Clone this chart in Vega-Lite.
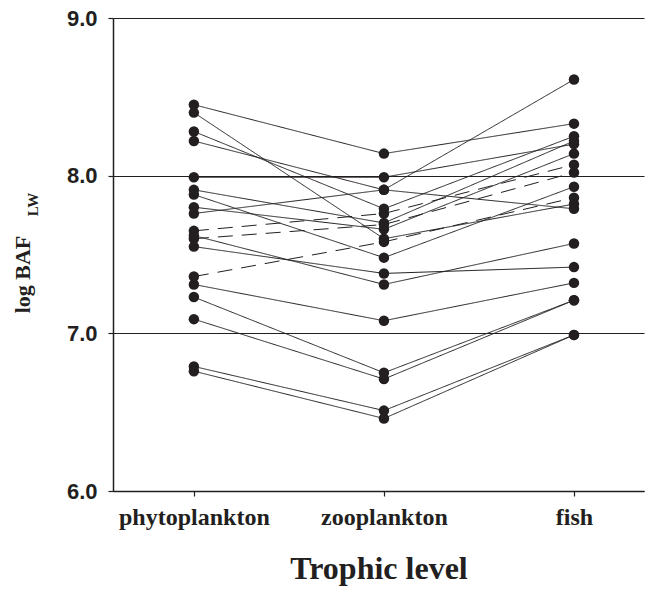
{
  "$schema": "https://vega.github.io/schema/vega-lite/v6.json",
  "autosize": {"type": "none"},
  "padding": {"left": 113, "top": 18, "right": 3, "bottom": 99},
  "width": 531,
  "height": 473,
  "background": "white",
  "config": {"view": {"stroke": null}},
  "data": {"values": [
    {"series": "S1", "level": "phytoplankton", "value": 8.45, "style": "solid"},
    {"series": "S1", "level": "zooplankton", "value": 8.14, "style": "solid"},
    {"series": "S1", "level": "fish", "value": 8.33, "style": "solid"},
    {"series": "S2", "level": "phytoplankton", "value": 8.40, "style": "solid"},
    {"series": "S2", "level": "zooplankton", "value": 7.60, "style": "solid"},
    {"series": "S2", "level": "fish", "value": 7.82, "style": "solid"},
    {"series": "S3", "level": "phytoplankton", "value": 8.28, "style": "solid"},
    {"series": "S3", "level": "zooplankton", "value": 7.79, "style": "solid"},
    {"series": "S3", "level": "fish", "value": 8.25, "style": "solid"},
    {"series": "S4", "level": "phytoplankton", "value": 8.22, "style": "solid"},
    {"series": "S4", "level": "zooplankton", "value": 7.91, "style": "solid"},
    {"series": "S4", "level": "fish", "value": 8.61, "style": "solid"},
    {"series": "S5", "level": "phytoplankton", "value": 7.99, "style": "solid"},
    {"series": "S5", "level": "zooplankton", "value": 7.99, "style": "solid"},
    {"series": "S5", "level": "fish", "value": 8.20, "style": "solid"},
    {"series": "S6", "level": "phytoplankton", "value": 7.91, "style": "solid"},
    {"series": "S6", "level": "zooplankton", "value": 7.70, "style": "solid"},
    {"series": "S6", "level": "fish", "value": 8.22, "style": "solid"},
    {"series": "S7", "level": "phytoplankton", "value": 7.88, "style": "solid"},
    {"series": "S7", "level": "zooplankton", "value": 7.48, "style": "solid"},
    {"series": "S7", "level": "fish", "value": 7.93, "style": "solid"},
    {"series": "S8", "level": "phytoplankton", "value": 7.80, "style": "solid"},
    {"series": "S8", "level": "zooplankton", "value": 7.66, "style": "solid"},
    {"series": "S8", "level": "fish", "value": 8.14, "style": "solid"},
    {"series": "S9", "level": "phytoplankton", "value": 7.76, "style": "solid"},
    {"series": "S9", "level": "zooplankton", "value": 7.91, "style": "solid"},
    {"series": "S9", "level": "fish", "value": 7.79, "style": "solid"},
    {"series": "S10", "level": "phytoplankton", "value": 7.65, "style": "dashed"},
    {"series": "S10", "level": "zooplankton", "value": 7.76, "style": "dashed"},
    {"series": "S10", "level": "fish", "value": 8.07, "style": "dashed"},
    {"series": "S11", "level": "phytoplankton", "value": 7.60, "style": "dashed"},
    {"series": "S11", "level": "zooplankton", "value": 7.69, "style": "dashed"},
    {"series": "S11", "level": "fish", "value": 8.02, "style": "dashed"},
    {"series": "S12", "level": "phytoplankton", "value": 7.62, "style": "solid"},
    {"series": "S12", "level": "zooplankton", "value": 7.31, "style": "solid"},
    {"series": "S12", "level": "fish", "value": 7.57, "style": "solid"},
    {"series": "S13", "level": "phytoplankton", "value": 7.55, "style": "solid"},
    {"series": "S13", "level": "zooplankton", "value": 7.38, "style": "solid"},
    {"series": "S13", "level": "fish", "value": 7.42, "style": "solid"},
    {"series": "S14", "level": "phytoplankton", "value": 7.36, "style": "dashed"},
    {"series": "S14", "level": "zooplankton", "value": 7.58, "style": "dashed"},
    {"series": "S14", "level": "fish", "value": 7.86, "style": "dashed"},
    {"series": "S15", "level": "phytoplankton", "value": 7.31, "style": "solid"},
    {"series": "S15", "level": "zooplankton", "value": 7.08, "style": "solid"},
    {"series": "S15", "level": "fish", "value": 7.32, "style": "solid"},
    {"series": "S16", "level": "phytoplankton", "value": 7.23, "style": "solid"},
    {"series": "S16", "level": "zooplankton", "value": 6.75, "style": "solid"},
    {"series": "S16", "level": "fish", "value": 7.21, "style": "solid"},
    {"series": "S17", "level": "phytoplankton", "value": 7.09, "style": "solid"},
    {"series": "S17", "level": "zooplankton", "value": 6.71, "style": "solid"},
    {"series": "S17", "level": "fish", "value": 7.21, "style": "solid"},
    {"series": "S18", "level": "phytoplankton", "value": 6.79, "style": "solid"},
    {"series": "S18", "level": "zooplankton", "value": 6.51, "style": "solid"},
    {"series": "S18", "level": "fish", "value": 6.99, "style": "solid"},
    {"series": "S19", "level": "phytoplankton", "value": 6.76, "style": "solid"},
    {"series": "S19", "level": "zooplankton", "value": 6.46, "style": "solid"},
    {"series": "S19", "level": "fish", "value": 6.99, "style": "solid"}
  ]},
  "layer": [
    {
      "mark": {"type": "line", "color": "#231f20", "strokeWidth": 1},
      "encoding": {
        "x": {
          "field": "level", "type": "ordinal",
          "sort": ["phytoplankton", "zooplankton", "fish"],
          "scale": {"type": "point", "padding": 0.397, "align": 0.536},
          "axis": {
            "title": "Trophic level",
            "titleFont": "Liberation Serif", "titleFontSize": 32, "titleFontWeight": "bold", "titleColor": "#231f20",
            "titleBaseline": "alphabetic", "titleY": 87,
            "labelFont": "Liberation Serif", "labelFontSize": 24, "labelFontWeight": "bold", "labelColor": "#231f20",
            "labelAngle": 0, "labelPadding": 9,
            "tickSize": 5, "tickColor": "#231f20", "tickWidth": 1.2,
            "domainColor": "#231f20", "domainWidth": 1.5, "grid": false
          }
        },
        "y": {
          "field": "value", "type": "quantitative",
          "scale": {"domain": [6, 9], "nice": false, "zero": false},
          "axis": {
            "values": [6, 7, 8, 9], "format": ".1f",
            "labelFont": "Liberation Sans", "labelFontSize": 22, "labelFontWeight": "bold", "labelColor": "#231f20",
            "labelPadding": 11,
            "tickSize": 5, "tickColor": "#231f20", "tickWidth": 1.2,
            "domainColor": "#231f20", "domainWidth": 1.5,
            "grid": true, "gridColor": "#231f20", "gridWidth": 1,
            "title": "log BAF",
            "titleFont": "Liberation Serif", "titleFontSize": 22, "titleFontWeight": "bold", "titleColor": "#231f20",
            "titleAngle": -90, "titleAlign": "center", "titleBaseline": "alphabetic",
            "titleX": -84, "titleY": 256
          }
        },
        "detail": {"field": "series", "type": "nominal"},
        "strokeDash": {
          "field": "style", "type": "nominal",
          "scale": {"domain": ["solid", "dashed"], "range": [[1, 0], [15, 9]]},
          "legend": null
        }
      }
    },
    {
      "mark": {"type": "circle", "size": 110, "opacity": 1, "color": "#231f20"},
      "encoding": {
        "x": {
          "field": "level", "type": "ordinal",
          "sort": ["phytoplankton", "zooplankton", "fish"]
        },
        "y": {
          "field": "value", "type": "quantitative",
          "axis": {
            "orient": "right", "labels": false, "ticks": false, "domain": false, "grid": false,
            "title": "LW",
            "titleFont": "Liberation Serif", "titleFontSize": 15, "titleFontWeight": "bold", "titleColor": "#231f20",
            "titleAngle": -90, "titleAlign": "center", "titleBaseline": "alphabetic",
            "titleX": -607, "titleY": 186
          }
        }
      }
    }
  ],
  "resolve": {"axis": {"y": "independent"}}
}
